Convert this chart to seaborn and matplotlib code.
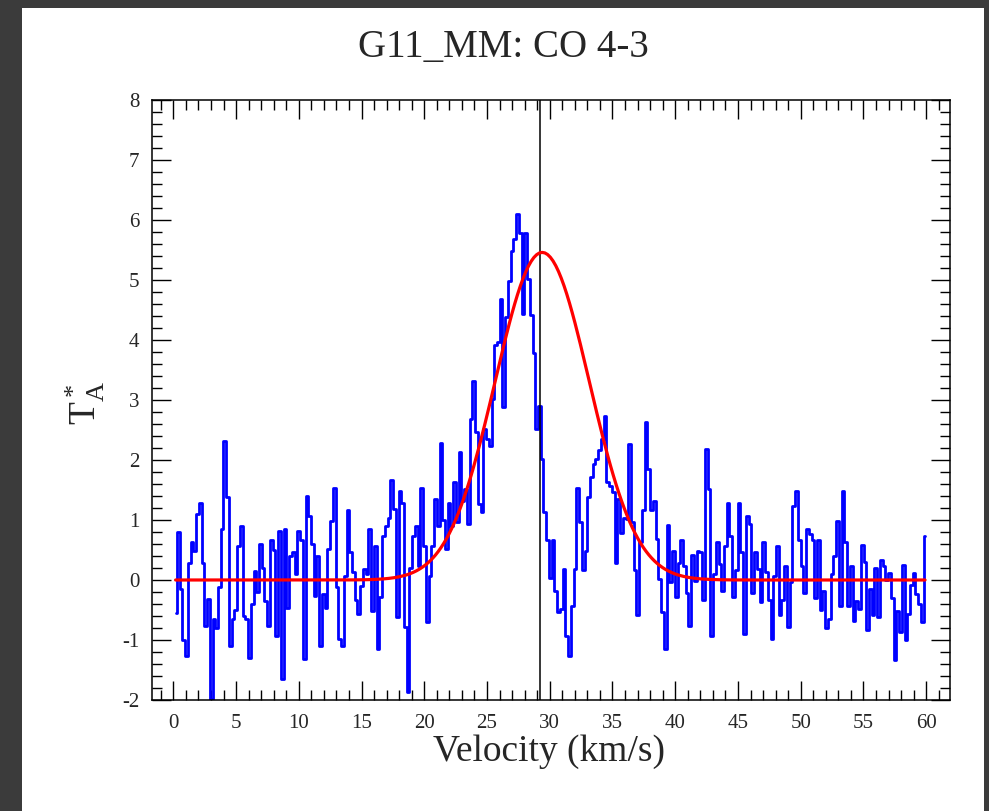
import numpy as np
import pandas as pd
import matplotlib
matplotlib.use("Agg")
import matplotlib.pyplot as plt
from matplotlib.patches import Rectangle
from matplotlib.ticker import MultipleLocator
import seaborn as sns

# ---------------- data ----------------
v_start = 0.18      # km/s, first channel
dv = 0.218          # km/s, channel width

ta_0_9 = [-0.55, 0.8, -0.15, -1.0, -1.26, 0.28, 0.64, 0.49, 1.1, 1.29,
          0.29, -0.76, -0.32, -1.98, -0.65, -0.8, -0.12, 0.85, 2.32, 1.38,
          -1.1, -0.65, -0.5, 0.57, 0.9, -0.6, -0.65, -1.3, -0.4, 0.15,
          -0.2, 0.6, 0.2, -0.35, -0.76, 0.66, 0.5, -0.93, 0.82, -1.65]
ta_9_20 = [0.85, -0.46, 0.4, 0.46, 0.1, 0.82, 0.66, -1.32, 1.4, 1.07,
           0.6, -0.26, 0.4, -1.1, -0.23, -0.46, 0.52, 0.99, 1.54, -0.12,
           -0.98, -1.1, 0.07, 1.16, 0.46, 0.13, -0.34, -0.57, -0.1, 0.18,
           0.1, 0.85, -0.51, 0.57, -1.15, -0.29, 0.74, 0.9, 1.04, 1.66,
           1.18, -0.62, 1.49, 1.29, -0.79, -1.87, 0.2, 0.74, 0.9]
ta_20_31 = [0.24, 1.54, 0.57, -0.7, 0.07, 0.57, 1.35, 0.9, 2.29, 1.0,
            0.52, 1.29, 0.9, 1.63, 0.96, 2.13, 1.32, 1.52, 0.93, 2.68,
            3.32, 2.46, 1.27, 1.13, 2.52, 2.35, 2.24, 3.02, 3.91, 3.96,
            4.68, 2.88, 4.38, 4.99, 5.49, 5.68, 6.1, 5.79, 4.43, 5.79,
            5.02, 4.41, 3.79, 2.52, 2.9, 2.02, 1.13, 0.66, 0.04, 0.66,
            -0.18, -0.54]
ta_31_42 = [-0.48, 0.18, -0.93, -1.26, -0.43, 0.18, 1.54, 0.96, 0.16, 0.49,
            1.38, 1.71, 1.93, 2.02, 2.16, 2.35, 2.74, 1.63, 1.57, 1.46,
            0.29, 1.35, 0.79, 1.04, 1.02, 2.27, 0.96, 0.16, -0.59, 0.63,
            1.16, 2.63, 1.85, 1.16, 1.32, 0.68, 0.02, -0.54, -1.15, 0.91,
            -0.04, 0.49, -0.29, 0.29, 0.66, 0.24, -0.21, -0.76, 0.41]
ta_42_51 = [-0.01, 0.49, 0.46, -0.34, 2.18, 1.52, -0.93, 0.1, 0.63, 0.27,
            -0.18, 0.57, 1.29, 0.74, -0.29, 0.16, 1.29, 0.46, -0.9, 1.07,
            0.93, -0.21, 0.46, 0.18, -0.37, 0.63, 0.13, -0.34, -0.98, 0.07,
            0.57, -0.59, -0.34, 0.24, -0.79, -0.04, 1.24, 1.49, 0.66, 0.24,
            -0.21, 0.85, 0.77, 0.66, -0.3]
ta_51_60 = [0.66, -0.5, -0.18, -0.8, -0.65, 0.1, 0.4, 0.99, -0.43, 1.49,
            0.63, -0.43, 0.24, -0.68, -0.35, -0.48, 0.58, 0.3, -0.84, -0.15,
            -0.59, 0.2, -0.62, 0.34, 0.24, 0.0, 0.12, -0.3, -1.34, -0.51,
            -0.87, 0.25, -1.0, -0.56, -0.09, 0.11, -0.23, -0.4, -0.7, 0.74]

# Gaussian fit parameters (red curve)
fit_amp = 5.46
fit_center = 29.4
fit_sigma = 3.75

# vertical marker
v_marker = 29.2

title = "G11_MM: CO 4-3"
xlabel = "Velocity (km/s)"
ylabel = r"$\mathregular{T_A^*}$"

ta = np.array(ta_0_9 + ta_9_20 + ta_20_31 + ta_31_42 + ta_42_51 + ta_51_60)
vel = v_start + dv * np.arange(len(ta))
fit = fit_amp * np.exp(-0.5 * ((vel - fit_center) / fit_sigma) ** 2)
df = pd.DataFrame({"vel": vel, "ta": ta, "fit": fit})

# ---------------- style ----------------
sns.set_style("white")
plt.rcParams["font.family"] = ["Liberation Serif", "DejaVu Serif"]
plt.rcParams["mathtext.fontset"] = "custom"
plt.rcParams["mathtext.rm"] = "Liberation Serif"
plt.rcParams["mathtext.it"] = "Liberation Serif:italic"
plt.rcParams["axes.unicode_minus"] = False

W, H = 989, 811
fig = plt.figure(figsize=(W / 100, H / 100), dpi=100)
fig.patch.set_facecolor("#3b3b3b")
fig.add_artist(Rectangle((22 / W, 0), (984 - 22) / W, (H - 8) / H,
                         transform=fig.transFigure, facecolor="white",
                         edgecolor="none", zorder=0))

ax = fig.add_axes([152 / W, 1 - 700 / H, (950 - 152) / W, 600 / H])
ax.set_facecolor("white")

sns.lineplot(data=df, x="vel", y="ta", ax=ax, color="#0000ff",
             drawstyle="steps-mid", linewidth=2.0, zorder=2)
ax.axvline(v_marker, color="black", linewidth=1.1, zorder=3)
sns.lineplot(data=df, x="vel", y="fit", ax=ax, color="#ff0000",
             linewidth=2.3, zorder=4)

ax.set_xlim(-1.7, 61.9)
ax.set_ylim(-2, 8)
ax.xaxis.set_major_locator(MultipleLocator(5))
ax.xaxis.set_minor_locator(MultipleLocator(1))
ax.yaxis.set_major_locator(MultipleLocator(1))
ax.yaxis.set_minor_locator(MultipleLocator(0.2))
ax.tick_params(which="both", direction="in", top=True, right=True,
               bottom=True, left=True, color="black", width=1.0)
ax.tick_params(which="major", length=14)
ax.tick_params(which="minor", length=7)
ax.tick_params(axis="x", which="major", labelsize=15, pad=10)
ax.tick_params(axis="y", which="major", labelsize=15, pad=9)
for s in ax.spines.values():
    s.set_visible(True)
    s.set_color("black")
    s.set_linewidth(1.1)

ax.set_xlabel("")
ax.set_ylabel("")
fig.text(549 / W, 1 - 752 / H, xlabel, ha="center", va="center", fontsize=27)
fig.text(85 / W, 1 - 403 / H, ylabel, ha="center", va="center", fontsize=27,
         rotation=90)
fig.text(503 / W, 1 - 48 / H, title, ha="center", va="center", fontsize=28)

fig.savefig("out.png", dpi=100, facecolor=fig.get_facecolor())
